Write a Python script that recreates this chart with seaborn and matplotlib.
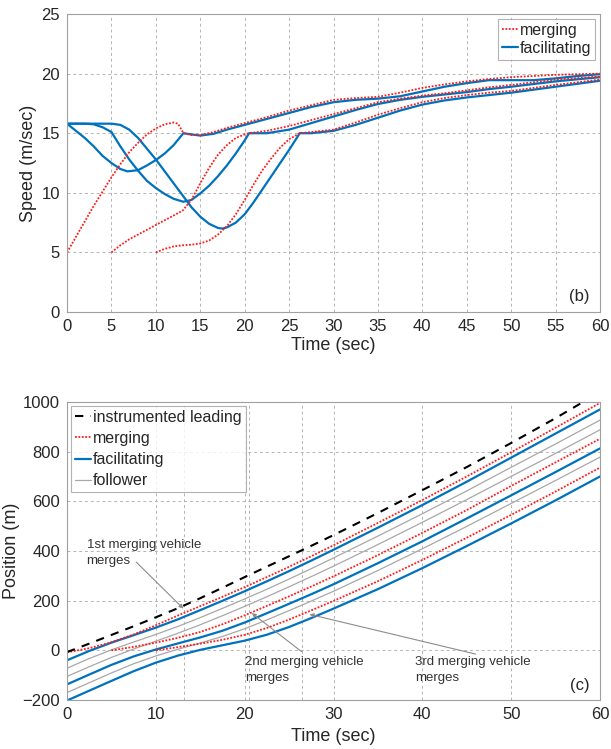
import numpy as np
import pandas as pd
import matplotlib
matplotlib.use("Agg")
import matplotlib.pyplot as plt
import seaborn as sns
from matplotlib.lines import Line2D

# ---------------- data: speed (panel b) ----------------
fac1_t = [0, 1, 2, 3, 4, 5, 6, 6.8, 8, 9, 10, 11, 12, 13.1, 14, 15, 16.5, 18, 20, 22.5, 25, 27.5, 30,
          32.5, 35, 37.5, 40, 42.5, 45, 47.5, 50, 52.5, 55, 57.5, 60]
fac1_v = [15.8, 15.2, 14.6, 13.9, 13.1, 12.5, 12.0, 11.8, 11.9, 12.3, 12.75, 13.3, 14.0, 15.0, 14.9, 14.8,
          14.95, 15.3, 15.7, 16.2, 16.7, 17.2, 17.6, 17.8, 17.9, 18.1, 18.5, 18.9, 19.2, 19.45, 19.45,
          19.45, 19.6, 19.8, 19.95]

mrg1_t = [0, 1, 2, 3, 4, 5, 6, 7, 8, 9, 10, 11, 12, 12.5, 13.1, 14, 15, 16.5, 18, 20, 22.5, 25, 27.5, 30,
          32.5, 35, 37.5, 40, 42.5, 45, 47.5, 50, 55, 60]
mrg1_v = [5.0, 6.3, 7.6, 8.9, 10.1, 11.3, 12.4, 13.4, 14.2, 14.9, 15.4, 15.75, 15.9, 15.8, 15.0, 14.85,
          14.85, 15.1, 15.45, 15.85, 16.35, 16.9, 17.35, 17.8, 17.95, 18.05, 18.4, 18.8, 19.1, 19.35,
          19.55, 19.7, 19.9, 20.0]

fac2_t = [0, 2, 3, 4, 5, 6, 7, 8, 9, 10, 11, 12, 13.1, 14, 15, 16, 17, 18, 19, 20, 20.5, 22.5, 25, 27.5,
          30, 32.5, 35, 37.5, 40, 42.5, 45, 47.5, 50, 55, 60]
fac2_v = [15.8, 15.8, 15.75, 15.5, 15.1, 13.9, 12.8, 11.85, 11.0, 10.4, 9.9, 9.5, 9.25, 9.4, 9.95, 10.6,
          11.4, 12.3, 13.3, 14.4, 15.0, 15.0, 15.3, 15.85, 16.4, 16.95, 17.45, 17.8, 18.05, 18.25, 18.45,
          18.7, 18.9, 19.35, 19.7]

mrg2_t = [5, 6, 7, 8, 9, 10, 11, 12, 13, 14, 15, 16, 17, 18, 19, 20, 20.5, 22.5, 25, 27.5, 30, 32.5, 35,
          37.5, 40, 42.5, 45, 47.5, 50, 55, 60]
mrg2_v = [5.0, 5.6, 6.1, 6.5, 6.9, 7.3, 7.7, 8.1, 8.5, 9.4, 10.8, 12.1, 13.2, 14.0, 14.6, 14.9, 15.0,
          15.2, 15.6, 16.1, 16.6, 17.1, 17.6, 17.9, 18.15, 18.35, 18.6, 18.85, 19.05, 19.5, 19.75]

fac3_t = [0, 4, 5, 6, 7, 8, 9, 10, 11, 12, 13, 14, 15, 16, 17, 17.5, 18, 19, 20, 21, 22, 23, 24, 25, 26.2,
          27.5, 30, 32.5, 35, 37.5, 40, 42.5, 45, 47.5, 50, 55, 60]
fac3_v = [15.8, 15.8, 15.8, 15.7, 15.3, 14.6, 13.7, 12.8, 11.8, 10.8, 9.8, 8.8, 8.0, 7.4, 7.05, 7.0, 7.1,
          7.5, 8.2, 9.2, 10.3, 11.4, 12.5, 13.6, 15.0, 15.0, 15.2, 15.7, 16.3, 16.9, 17.4, 17.75, 18.0,
          18.2, 18.4, 18.9, 19.4]

mrg3_t = [10, 11, 12, 13, 14, 15, 16, 17, 18, 19, 20, 21, 22, 23, 24, 25, 26.2, 27.5, 30, 32.5, 35, 37.5,
          40, 42.5, 45, 47.5, 50, 55, 60]
mrg3_v = [5.0, 5.3, 5.5, 5.6, 5.65, 5.75, 6.0, 6.5, 7.2, 8.2, 9.4, 10.7, 11.9, 12.9, 13.8, 14.5, 15.0,
          15.1, 15.3, 15.9, 16.55, 17.1, 17.6, 17.95, 18.2, 18.4, 18.55, 19.05, 19.5]

# ---------------- data: position (panel c) ----------------
pos_t = [0, 2.5, 5, 7.5, 10, 12.5, 15, 17.5, 20, 22.5, 25, 27.5, 30, 35, 40, 45, 50, 55, 60]
lead_p = [-7, 27, 62, 97, 133, 170, 210, 252, 295, 337, 379, 421, 464, 553, 645, 738, 835, 935, 1040]
mrg1_p = [-8, 8.5, 32.5, 64, 101, 140.5, 178, 215.5, 254.5, 295, 336.5, 379, 423, 513, 605, 700, 797.5,
          896.5, 996]
fac1_p = [-40, -2.5, 31, 61, 91.5, 125, 162, 199.5, 238, 278, 319, 361.5, 405, 494, 585, 679, 776, 873, 970]
folA_p = [-72, -33, 2, 33.5, 64, 96.5, 132, 169, 207, 246, 287, 329, 372, 460, 550, 642, 737, 831, 927]
folB_p = [-105, -66, -28.5, 5.5, 37, 69, 103, 139.5, 177, 216, 256, 297, 339, 426, 515.5, 607, 700.5,
          793, 888]
mrg2_pt = [5, 7.5, 10, 12.5, 15, 17.5, 20, 22.5, 25, 27.5, 30, 35, 40, 45, 50, 55, 60]
mrg2_p = [0, 14, 31, 50.5, 74, 105, 141, 179, 217.5, 257, 298, 383.5, 473, 565, 662, 757, 852]
fac2_p = [-137, -97.5, -58.5, -24.5, 3.5, 28, 52, 79, 112, 149.5, 187.5, 226, 266, 351, 439, 531, 624,
          718, 813]
folC_p = [-170, -130.5, -91, -54, -22.5, 4.5, 29.5, 56, 87, 122.5, 160, 198.5, 238, 321.5, 409, 499,
          591.5, 684, 778]
mrg3_pt = [10, 12.5, 15, 17.5, 20, 22.5, 25, 27.5, 30, 35, 40, 45, 50, 55, 60]
mrg3_p = [0, 13, 27, 42.5, 62.5, 90, 124, 161, 199, 278.5, 364, 453.5, 545.5, 639.5, 736]
fac3_p = [-202, -162.5, -123, -84, -49.5, -21, 2, 20.5, 39, 63, 94, 130, 168, 246.5, 331, 420, 511, 604, 700]

merge_times = [13.2, 20.5, 26.4]

# ---------------- style ----------------
sns.set_theme(style="white")
plt.rcParams["font.family"] = ["Liberation Sans", "DejaVu Sans"]

BLUE = "#0072BD"
RED = "#FF1A1A"
GRAY = "#A8A8A8"
TXT = "#262626"

fig = plt.figure(figsize=(6.11, 7.49), dpi=100)
ax1 = fig.add_axes([0.1097, 0.5834, 0.8723, 0.3979])
ax2 = fig.add_axes([0.1097, 0.0654, 0.8723, 0.3979])


def draw(ax, t, v, **kw):
    sns.lineplot(x=t, y=v, ax=ax, estimator=None, sort=False, legend=False, **kw)


def style_axes(ax):
    ax.grid(True, linestyle=(0, (3, 3)), color="#B4B4B4", linewidth=0.7)
    ax.set_axisbelow(True)
    for s in ax.spines.values():
        s.set_color("#A0A0A0")
        s.set_linewidth(0.8)
    ax.tick_params(axis="both", labelsize=12, colors=TXT, length=0, pad=5)
    ax.set_xlim(0, 60)


# ---- panel (b)
style_axes(ax1)
blue_kw = dict(color=BLUE, linewidth=1.6)
red_kw = dict(color=RED, linestyle=(0, (1, 0.9)), linewidth=1.3)
draw(ax1, fac1_t, fac1_v, **blue_kw)
draw(ax1, fac2_t, fac2_v, **blue_kw)
draw(ax1, fac3_t, fac3_v, **blue_kw)
draw(ax1, mrg1_t, mrg1_v, **red_kw)
draw(ax1, mrg2_t, mrg2_v, **red_kw)
draw(ax1, mrg3_t, mrg3_v, **red_kw)
ax1.set_ylim(0, 25)
ax1.set_xticks(range(0, 61, 5))
ax1.set_yticks(range(0, 26, 5))
ax1.set_xlabel("Time (sec)", fontsize=13, color=TXT, labelpad=2)
ax1.set_ylabel("Speed (m/sec)", fontsize=13, color=TXT, labelpad=3)
ax1.text(58.8, 1.3, "(b)", ha="right", va="center", fontsize=12, color=TXT)
h1 = [Line2D([], [], **red_kw), Line2D([], [], **blue_kw)]
leg1 = ax1.legend(h1, ["merging", "facilitating"], loc="upper right", fontsize=11.5,
                  frameon=True, fancybox=False, edgecolor="#A0A0A0", borderpad=0.25,
                  handlelength=1.0, handletextpad=0.12, labelspacing=0.2, borderaxespad=0.3)
leg1.get_frame().set_linewidth(0.8)
for t in leg1.get_texts():
    t.set_color(TXT)

# ---- panel (c)
style_axes(ax2)
for mt in merge_times:
    ax2.axvline(mt, linestyle=(0, (3, 3)), color="#B4B4B4", linewidth=0.7, zorder=0.5)
gray_kw = dict(color=GRAY, linewidth=0.9)
black_kw = dict(color="black", linestyle=(0, (4, 3.5)), linewidth=1.5)
draw(ax2, pos_t, folA_p, **gray_kw)
draw(ax2, pos_t, folB_p, **gray_kw)
draw(ax2, pos_t, folC_p, **gray_kw)
draw(ax2, pos_t, fac1_p, **blue_kw)
draw(ax2, pos_t, fac2_p, **blue_kw)
draw(ax2, pos_t, fac3_p, **blue_kw)
draw(ax2, pos_t, mrg1_p, **red_kw)
draw(ax2, mrg2_pt, mrg2_p, **red_kw)
draw(ax2, mrg3_pt, mrg3_p, **red_kw)
draw(ax2, pos_t, lead_p, **black_kw)
ax2.set_ylim(-200, 1000)
ax2.set_xticks(range(0, 61, 10))
ax2.set_yticks(range(-200, 1001, 200))
ax2.set_xlabel("Time (sec)", fontsize=13, color=TXT, labelpad=4)
ax2.set_ylabel("Position (m)", fontsize=13, color=TXT, labelpad=2)
ax2.text(58.8, -140, "(c)", ha="right", va="center", fontsize=12, color=TXT)

h2 = [Line2D([], [], **black_kw), Line2D([], [], **red_kw), Line2D([], [], **blue_kw),
      Line2D([], [], **gray_kw)]
leg2 = ax2.legend(h2, ["instrumented leading", "merging", "facilitating", "follower"],
                  loc="upper left", fontsize=11.5, frameon=True, fancybox=False,
                  edgecolor="#A0A0A0", borderpad=0.25, handlelength=1.0, handletextpad=0.12,
                  labelspacing=0.38, borderaxespad=0.25)
leg2.get_frame().set_linewidth(0.8)
for t in leg2.get_texts():
    t.set_color(TXT)

ann_kw = dict(fontsize=9.5, color="#333333", ha="left", va="center", linespacing=1.45,
              family=["Liberation Sans", "DejaVu Sans"])
arrow_kw = dict(arrowstyle="-|>", color="#8C8C8C", lw=0.8, mutation_scale=6, shrinkA=0, shrinkB=0)
ax2.text(2.2, 392, "1st merging vehicle\nmerges", **ann_kw)
ax2.annotate("", xy=(13.1, 168), xytext=(7.8, 355), arrowprops=arrow_kw)
ax2.text(20.0, -78, "2nd merging vehicle\nmerges", **ann_kw)
ax2.annotate("", xy=(20.8, 150), xytext=(26.4, -5), arrowprops=arrow_kw)
ax2.text(39.2, -78, "3rd merging vehicle\nmerges", **ann_kw)
ax2.annotate("", xy=(27.3, 145), xytext=(46.0, -15), arrowprops=arrow_kw)

fig.savefig("out.png", dpi=100)
